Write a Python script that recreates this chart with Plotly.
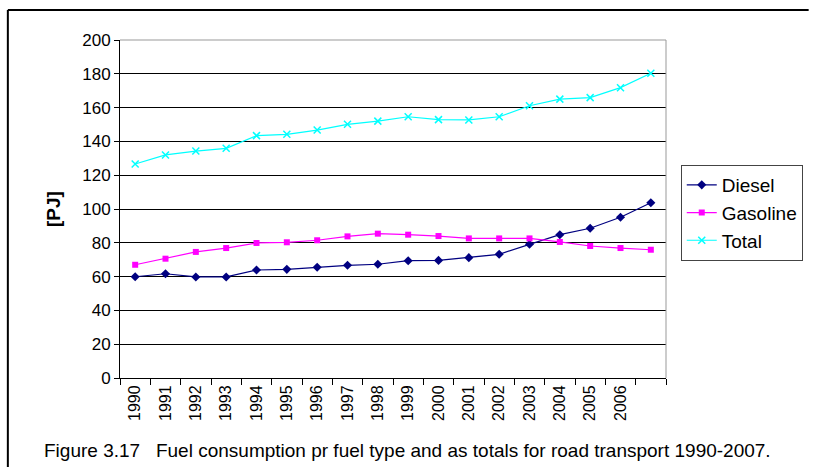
import plotly.graph_objects as go

years = list(range(1990, 2008))
tick_years = list(range(1990, 2007))
diesel = [59.9, 61.7, 59.8, 59.8, 63.9, 64.3, 65.5, 66.7, 67.3, 69.4, 69.6, 71.2, 73.2, 79.1, 84.8, 88.6, 95.1, 103.7]
gasoline = [67.0, 70.6, 74.6, 76.9, 79.9, 80.3, 81.5, 83.8, 85.4, 84.8, 84.0, 82.6, 82.6, 82.6, 80.5, 78.1, 76.9, 75.9]
total = [126.6, 132.0, 134.3, 135.9, 143.4, 144.2, 146.7, 150.1, 152.0, 154.6, 152.9, 152.7, 154.6, 161.1, 165.0, 165.9, 171.8, 180.3]

FONT = "Liberation Sans, Arial, sans-serif"

fig = go.Figure()
fig.add_trace(go.Scatter(x=years, y=diesel, name="Diesel", mode="lines+markers",
                         line=dict(color="#000080", width=1.2),
                         marker=dict(symbol="diamond", size=7, color="#000080")))
fig.add_trace(go.Scatter(x=years, y=gasoline, name="Gasoline", mode="lines+markers",
                         line=dict(color="#FF00FF", width=1.2),
                         marker=dict(symbol="square", size=6, color="#FF00FF")))
fig.add_trace(go.Scatter(x=years, y=total, name="Total", mode="lines+markers",
                         line=dict(color="#00FFFF", width=1.2),
                         marker=dict(symbol="x-thin", size=7, color="#00FFFF",
                                     line=dict(color="#00FFFF", width=1.5))))

W, H = 815, 467
L, R, T, B = 120, 675, 40, 378

def px(x):
    return (x - L) / (R - L)

def py(y):
    return (B - y) / (B - T)

fig.update_layout(
    width=W, height=H,
    margin=dict(l=L, r=W - R, t=T, b=H - B, pad=0),
    paper_bgcolor="white", plot_bgcolor="white",
    font=dict(family=FONT, size=16, color="black"),
    showlegend=True,
    legend=dict(x=px(690), y=py(165), xanchor="left", yanchor="top",
                bordercolor="#444", borderwidth=1, font=dict(size=19),
                tracegroupgap=0, itemwidth=30),
    xaxis=dict(range=[1989.5, 2007.5], tickmode="array", tickvals=tick_years,
               ticktext=[str(y) for y in tick_years], tickangle=-90,
               ticks="", showgrid=False, zeroline=False,
               showline=True, linecolor="black", linewidth=1,
               tickfont=dict(size=16),
               minor=dict(tickmode="array", tickvals=[y + 0.5 for y in range(1989, 2008)],
                          ticks="outside", ticklen=6, tickcolor="black", showgrid=False)),
    yaxis=dict(range=[0, 200], tickmode="array", tickvals=list(range(0, 201, 20)),
               ticks="outside", ticklen=5, tickcolor="black",
               showgrid=True, gridcolor="black", gridwidth=1, zeroline=False,
               showline=True, linecolor="black", linewidth=1,
               tickfont=dict(size=17),
               title=dict(text="<b>[PJ]</b>", font=dict(size=19), standoff=16)),
    shapes=[
        dict(type="line", xref="paper", yref="paper", x0=0, x1=1, y0=1, y1=1,
             line=dict(color="#999", width=1)),
        dict(type="line", xref="paper", yref="paper", x0=1, x1=1, y0=0, y1=1,
             line=dict(color="#999", width=1)),
        dict(type="line", xref="paper", yref="paper", x0=px(6), x1=px(6), y0=py(10), y1=py(470),
             line=dict(color="black", width=2)),
        dict(type="line", xref="paper", yref="paper", x0=px(6), x1=px(820), y0=py(10), y1=py(10),
             line=dict(color="black", width=2)),
    ],
    annotations=[
        dict(text="Figure 3.17   Fuel consumption pr fuel type and as totals for road transport 1990-2007.",
             xref="paper", yref="paper", x=px(41), y=py(451), xanchor="left", yanchor="middle",
             showarrow=False, font=dict(size=19, family=FONT)),
    ],
)

fig.write_html("out.html", config={"displayModeBar": False},
               post_script="document.body.style.margin='0px';document.body.style.overflow='hidden';")
